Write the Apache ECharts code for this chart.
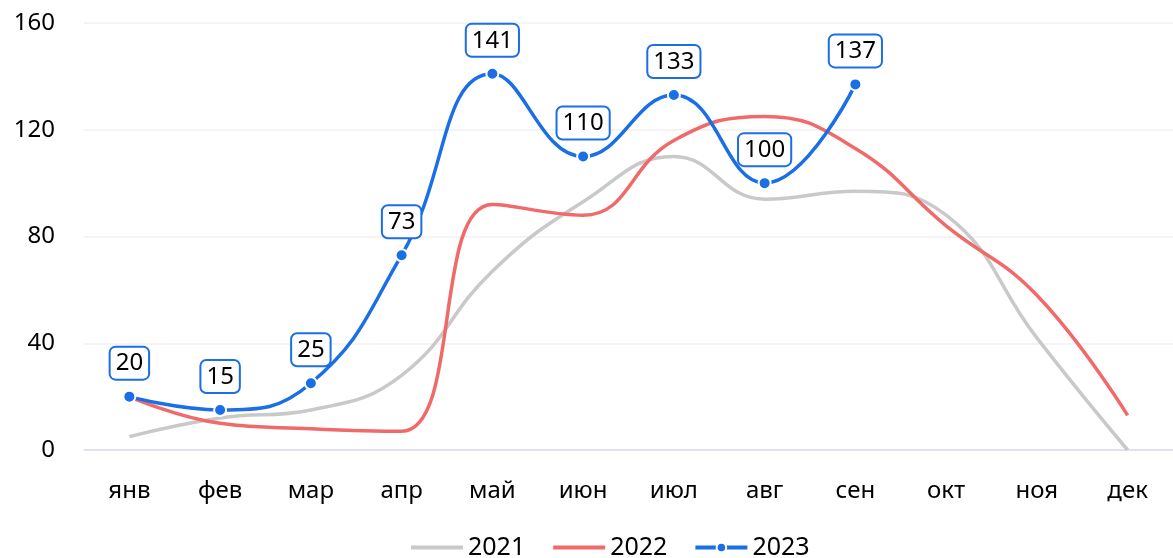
<!DOCTYPE html>
<html>
<head>
<meta charset="utf-8">
<script src="https://cdn.jsdelivr.net/npm/echarts@6/dist/echarts.min.js"></script>
<style>
  html, body { margin: 0; padding: 0; background: #fff; }
  #main { width: 1173px; height: 558px; }
</style>
</head>
<body>
<div id="main"></div>
<script>
// месяцы по оси X
const months = ['янв', 'фев', 'мар', 'апр', 'май', 'июн', 'июл', 'авг', 'сен', 'окт', 'ноя', 'дек'];
// значения по годам
const data2021 = [5, 12, 15, 28, 67, 93, 110, 94, 97, 88, 42, 0];
const data2022 = [20, 10, 8, 7, 92, 88, 116, 125, 113, 84, 58, 13];
const data2023 = [20, 15, 25, 73, 141, 110, 133, 100, 137];
const yTicks = { min: 0, max: 160, interval: 40 };

const font = '"Noto Sans", "Open Sans", sans-serif';
const chart = echarts.init(document.getElementById('main'));

const option = {
  animation: false,
  textStyle: { fontFamily: font },
  grid: { left: 84, right: 0, top: 23, bottom: 108 },
  legend: {
    top: 535,
    left: 409,
    padding: 0,
    itemWidth: 52,
    itemHeight: 12,
    itemGap: 26,
    lineStyle: { width: 4 },
    textStyle: { fontSize: 25, color: '#000', fontFamily: font },
    data: [
      { name: '2021', itemStyle: { opacity: 0 } },
      { name: '2022', itemStyle: { opacity: 0 } },
      { name: '2023' }
    ]
  },
  xAxis: {
    type: 'category',
    data: months,
    boundaryGap: true,
    axisLine: { lineStyle: { color: '#d9d9ea', width: 1.5 } },
    axisTick: { show: false },
    axisLabel: { fontSize: 24, color: '#000', margin: 29, fontFamily: font }
  },
  yAxis: {
    type: 'value',
    min: yTicks.min,
    max: yTicks.max,
    interval: yTicks.interval,
    axisLine: { show: false },
    axisTick: { show: false },
    axisLabel: { fontSize: 24, color: '#000', margin: 29, fontFamily: font },
    splitLine: { lineStyle: { color: '#f0f0f6', width: 1.5 } }
  },
  series: [
    {
      name: '2021',
      type: 'line',
      data: data2021,
      smooth: 0.45,
      showSymbol: false,
      symbol: 'none',
      lineStyle: { color: '#c9c9c9', width: 3.5 },
      itemStyle: { color: '#c9c9c9' }
    },
    {
      name: '2022',
      type: 'line',
      data: data2022,
      smooth: 0.45,
      showSymbol: false,
      symbol: 'none',
      lineStyle: { color: '#f06a6a', width: 3.5 },
      itemStyle: { color: '#f06a6a' }
    },
    {
      name: '2023',
      type: 'line',
      data: data2023,
      smooth: 0.45,
      symbol: 'circle',
      symbolSize: 12,
      z: 3,
      lineStyle: { color: '#1a6ee6', width: 3.5 },
      itemStyle: { color: '#1a6ee6', borderColor: '#fff', borderWidth: 2 },
      label: {
        show: true,
        position: 'top',
        distance: 11,
        fontSize: 24,
        color: '#000',
        fontFamily: font,
        backgroundColor: '#fff',
        borderColor: '#1a6ee6',
        borderWidth: 2,
        borderRadius: 5,
        padding: [4, 5, 3, 5]
      }
    }
  ]
};

chart.setOption(option);
</script>
</body>
</html>
